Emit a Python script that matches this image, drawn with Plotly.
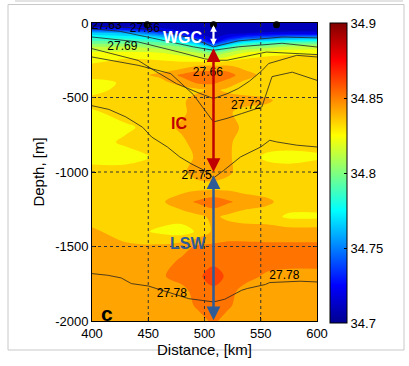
import plotly.graph_objects as go

# ---------------- data ----------------
distance_km = [400, 430, 460, 480, 495, 508, 520, 535, 555, 575, 600]
depth_m = [0, -20, -45, -70, -100, -130, -160, -200, -250, -300, -350, -400, -450,
           -520, -600, -700, -800, -900, -1000, -1100, -1200, -1300, -1400, -1500,
           -1600, -1700, -1800, -1900, -2000]

# salinity, one row per depth (same order as depth_m), one value per distance
salinity = [
    [34.702, 34.702, 34.702, 34.702, 34.702, 34.702, 34.702, 34.702, 34.702, 34.702, 34.702],
    [34.710, 34.708, 34.705, 34.703, 34.702, 34.702, 34.702, 34.702, 34.703, 34.703, 34.703],
    [34.735, 34.728, 34.715, 34.708, 34.704, 34.702, 34.704, 34.704, 34.705, 34.705, 34.705],
    [34.765, 34.760, 34.740, 34.720, 34.710, 34.704, 34.708, 34.710, 34.712, 34.715, 34.715],
    [34.780, 34.778, 34.770, 34.750, 34.725, 34.708, 34.720, 34.735, 34.745, 34.755, 34.760],
    [34.795, 34.795, 34.790, 34.775, 34.750, 34.720, 34.745, 34.770, 34.780, 34.788, 34.790],
    [34.810, 34.810, 34.805, 34.800, 34.785, 34.760, 34.780, 34.800, 34.805, 34.812, 34.815],
    [34.822, 34.822, 34.820, 34.815, 34.810, 34.800, 34.810, 34.820, 34.825, 34.828, 34.828],
    [34.826, 34.832, 34.830, 34.828, 34.826, 34.825, 34.828, 34.832, 34.835, 34.835, 34.835],
    [34.835, 34.835, 34.835, 34.838, 34.845, 34.845, 34.845, 34.838, 34.835, 34.835, 34.835],
    [34.835, 34.835, 34.842, 34.852, 34.856, 34.856, 34.855, 34.845, 34.836, 34.835, 34.835],
    [34.825, 34.832, 34.836, 34.845, 34.852, 34.852, 34.846, 34.838, 34.835, 34.835, 34.835],
    [34.825, 34.835, 34.835, 34.835, 34.838, 34.842, 34.838, 34.835, 34.835, 34.835, 34.835],
    [34.835, 34.835, 34.835, 34.838, 34.846, 34.848, 34.846, 34.845, 34.842, 34.835, 34.835],
    [34.828, 34.835, 34.835, 34.838, 34.845, 34.845, 34.842, 34.836, 34.835, 34.835, 34.835],
    [34.825, 34.828, 34.835, 34.842, 34.846, 34.846, 34.845, 34.838, 34.835, 34.835, 34.835],
    [34.825, 34.832, 34.835, 34.838, 34.845, 34.845, 34.842, 34.836, 34.835, 34.835, 34.835],
    [34.825, 34.825, 34.832, 34.836, 34.842, 34.845, 34.842, 34.835, 34.828, 34.826, 34.828],
    [34.835, 34.835, 34.835, 34.838, 34.845, 34.846, 34.842, 34.836, 34.835, 34.835, 34.838],
    [34.835, 34.835, 34.835, 34.835, 34.836, 34.836, 34.836, 34.835, 34.835, 34.835, 34.835],
    [34.835, 34.835, 34.838, 34.846, 34.852, 34.856, 34.852, 34.846, 34.842, 34.836, 34.835],
    [34.835, 34.835, 34.835, 34.835, 34.838, 34.842, 34.838, 34.835, 34.835, 34.828, 34.828],
    [34.842, 34.835, 34.828, 34.825, 34.832, 34.842, 34.846, 34.846, 34.845, 34.845, 34.845],
    [34.845, 34.842, 34.842, 34.846, 34.852, 34.852, 34.852, 34.852, 34.852, 34.852, 34.852],
    [34.845, 34.845, 34.845, 34.852, 34.856, 34.857, 34.856, 34.855, 34.855, 34.855, 34.855],
    [34.845, 34.845, 34.848, 34.855, 34.858, 34.866, 34.858, 34.855, 34.848, 34.845, 34.845],
    [34.845, 34.845, 34.845, 34.846, 34.856, 34.857, 34.855, 34.846, 34.845, 34.845, 34.845],
    [34.845, 34.845, 34.845, 34.845, 34.852, 34.856, 34.852, 34.845, 34.845, 34.845, 34.845],
    [34.845, 34.845, 34.845, 34.845, 34.846, 34.852, 34.846, 34.845, 34.845, 34.845, 34.845],
]

# isopycnals (distance km, depth m)
iso_a_x = [400, 430, 460, 490, 508, 530, 569, 600]
iso_a_z = [-20, -28, -50, -105, -160, -120, -94, -100]
iso_b_x = [400, 425, 456, 490, 508, 530, 569, 600]
iso_b_z = [-38, -56, -105, -160, -183, -160, -136, -161]
iso_c_x = [400, 441, 480, 500, 508, 520, 555, 600]
iso_c_z = [-94, -127, -200, -240, -250, -250, -195, -212]
iso_d_x = [400, 441, 455, 475, 495, 508, 520, 530, 540, 551, 557, 582, 600]
iso_d_z = [-172, -251, -317, -407, -470, -507, -475, -440, -390, -320, -272, -217, -228]
iso_e_x = [400, 441, 470, 490, 508, 520, 533, 551, 556, 560, 578, 600]
iso_e_z = [-228, -284, -340, -480, -664, -640, -608, -563, -450, -360, -330, -385]
iso_f_x = [400, 415, 430, 445, 453, 467, 478, 488, 500, 508, 517, 532, 550, 558, 564, 582, 600]
iso_f_z = [-555, -580, -630, -700, -765, -832, -899, -944, -990, -1040, -990, -899, -832, -787, -798, -820, -832]
iso_g_x = [400, 414, 426, 435, 450, 457, 486, 508, 518, 533, 538, 554, 558, 585, 600]
iso_g_z = [-1682, -1693, -1711, -1749, -1765, -1782, -1850, -1872, -1854, -1794, -1782, -1755, -1742, -1733, -1738]

iso_label_text = ["27.63", "27.66", "27.69", "27.66", "27.72", "27.75", "27.78", "27.78"]
iso_label_x = [413, 447, 427, 503, 537, 493, 471, 571]
iso_label_z = [-22, -42, -158, -338, -559, -1028, -1820, -1700]

station_x = [449, 508, 564]

water_names = ["WGC", "IC", "LSW"]
water_x = [481, 477, 485.5]
water_z = [-94, -673, -1478]
water_colors = ["white", "#C00000", "#2F5C96"]

arrow_x = 508
arrow_top = [-5, -160, -1012]
arrow_bottom = [-150, -1000, -1995]

x_ticks = [400, 450, 500, 550, 600]
y_ticks = [0, -500, -1000, -1500, -2000]
cbar_ticks = [34.7, 34.75, 34.8, 34.85, 34.9]

# ---------------- figure ----------------
jet = [[0.0, "#00008F"], [0.125, "#0000FF"], [0.375, "#00FFFF"],
       [0.625, "#FFFF00"], [0.875, "#FF0000"], [1.0, "#800000"]]
FONT = "Liberation Sans, Arial, sans-serif"

fig = go.Figure()
# continuous heatmap only provides the smooth colour bar (hidden under the filled contours)
fig.add_trace(go.Heatmap(
    x=distance_km, y=depth_m, z=salinity,
    colorscale=jet, zmin=34.7, zmax=34.9, showscale=True,
    colorbar=dict(
        x=(330 - 92) / 225, xanchor="left", y=1, yanchor="top",
        thickness=17, thicknessmode="pixels", len=300, lenmode="pixels",
        xpad=0, ypad=0, outlinewidth=1, outlinecolor="black",
        tickvals=cbar_ticks, ticktext=[str(v) for v in cbar_ticks],
        ticks="inside", ticklen=3, tickcolor="black",
        tickfont=dict(family=FONT, size=13, color="black"),
    ),
    hoverinfo="skip",
))
fig.add_trace(go.Contour(
    x=distance_km, y=depth_m, z=salinity,
    colorscale=jet, showscale=False,
    contours=dict(start=34.70, end=34.90, size=0.01, coloring="fill", showlines=False),
    line=dict(width=0),
    hoverinfo="skip",
))

for xs, zs in [(iso_a_x, iso_a_z), (iso_b_x, iso_b_z), (iso_c_x, iso_c_z),
               (iso_d_x, iso_d_z), (iso_e_x, iso_e_z), (iso_f_x, iso_f_z),
               (iso_g_x, iso_g_z)]:
    fig.add_trace(go.Scatter(x=xs, y=zs, mode="lines",
                             line=dict(color="#222222", width=0.8),
                             showlegend=False, hoverinfo="skip"))

fig.add_trace(go.Scatter(x=station_x, y=[-12] * len(station_x), mode="markers",
                         marker=dict(color="black", size=7), cliponaxis=False,
                         showlegend=False, hoverinfo="skip"))

fig.add_trace(go.Scatter(x=iso_label_x, y=iso_label_z, mode="text", text=iso_label_text,
                         textfont=dict(family=FONT, size=12, color="black"),
                         showlegend=False, hoverinfo="skip"))

annotations = []
arrow_colors = ["white", "#C00000", "#2F5C96"]
arrow_sizes = [0.6, 1.1, 1.1]
arrow_widths = [2.2, 2.5, 2.5]
for top, bot, col, sz, wd in zip(arrow_top, arrow_bottom, arrow_colors, arrow_sizes, arrow_widths):
    annotations.append(dict(x=arrow_x, y=bot, ax=arrow_x, ay=top, xref="x", yref="y",
                            axref="x", ayref="y", showarrow=True, arrowhead=2,
                            arrowside="end+start", arrowsize=sz, arrowwidth=wd,
                            arrowcolor=col, standoff=0, startstandoff=0, text=""))
for name, xx, zz, col in zip(water_names, water_x, water_z, water_colors):
    annotations.append(dict(x=xx, y=zz, xref="x", yref="y", text="<b>%s</b>" % name,
                            showarrow=False,
                            font=dict(family=FONT, size=16, color=col)))
annotations.append(dict(x=413, y=-1948, xref="x", yref="y", text="<b>c</b>", showarrow=False,
                        font=dict(family=FONT, size=21, color="black")))

shapes = []
for xv in x_ticks[1:-1]:
    shapes.append(dict(type="line", xref="x", yref="y", x0=xv, x1=xv, y0=-2000, y1=0,
                       line=dict(color="#333333", width=1, dash="dot"), layer="above"))
for yv in y_ticks[1:-1]:
    shapes.append(dict(type="line", xref="x", yref="y", x0=400, x1=600, y0=yv, y1=yv,
                       line=dict(color="#333333", width=1, dash="dot"), layer="above"))
# page frame
shapes.append(dict(type="rect", xref="paper", yref="paper",
                   x0=(8 - 92) / 225, x1=(404 - 92) / 225,
                   y0=(321 - 350) / 298, y1=(321 - 4.5) / 298,
                   line=dict(color="#C8C8C8", width=1), layer="below"))
shapes.append(dict(type="line", xref="paper", yref="paper",
                   x0=(15 - 92) / 225, x1=(403 - 92) / 225,
                   y0=(321 - 1) / 298, y1=(321 - 1) / 298,
                   line=dict(color="#C8C8C8", width=1), layer="below"))

axis_common = dict(showline=True, linecolor="black", linewidth=1, mirror="ticks",
                   ticks="inside", ticklen=4, tickcolor="black", showgrid=False,
                   zeroline=False, tickfont=dict(family=FONT, size=13, color="black"))

fig.update_layout(
    width=409, height=366,
    margin=dict(l=92, r=92, t=23, b=45),
    paper_bgcolor="white", plot_bgcolor="white",
    showlegend=False,
    font=dict(family=FONT, color="black"),
    xaxis=dict(range=[400, 600], tickvals=x_ticks, ticktext=[str(v) for v in x_ticks],
               title=dict(text="Distance, [km]", font=dict(family=FONT, size=15), standoff=2),
               **axis_common),
    yaxis=dict(range=[-2000, 0], tickvals=y_ticks, ticktext=[str(v) for v in y_ticks],
               title=dict(text="Depth, [m]", font=dict(family=FONT, size=15), standoff=6),
               **axis_common),
    annotations=annotations,
    shapes=shapes,
)

fig.write_html("out.html")
